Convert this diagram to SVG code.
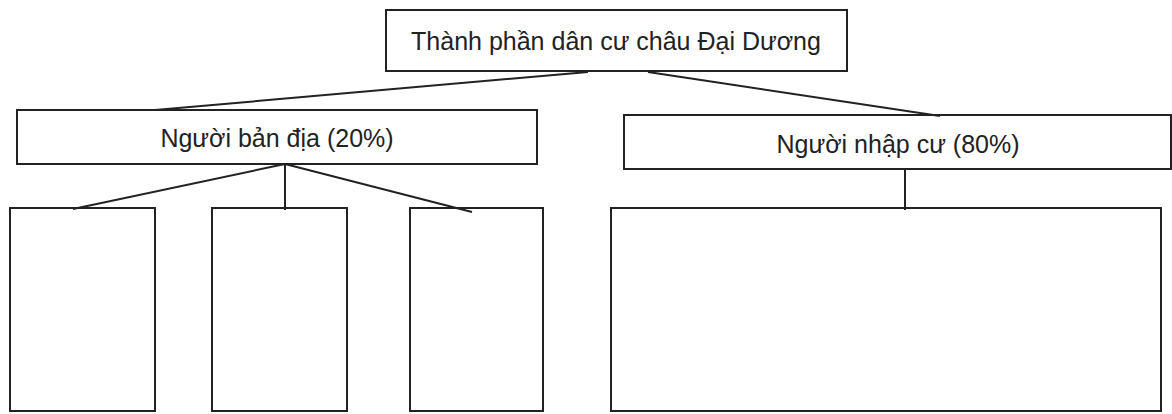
<svg xmlns="http://www.w3.org/2000/svg" width="1172" height="414" viewBox="0 0 1172 414">
<style>
.box{fill:#fff;stroke:#222;stroke-width:2}
.lbl{font-family:"Liberation Sans",Arial,sans-serif;font-size:25px;fill:#222;text-anchor:middle}
.con line{stroke:#222;stroke-width:2}
</style>
<rect width="1172" height="414" fill="#fff"/>
<g id="root">
<rect class="box" x="386" y="10" width="461" height="61"/>
<text class="lbl" x="616" y="50">Thành phần dân cư châu Đại Dương</text>
</g>
<g id="native">
<rect class="box" x="17" y="110" width="520" height="54"/>
<text class="lbl" x="277" y="147">Người bản địa (20%)</text>
</g>
<g id="immigrant">
<rect class="box" x="624" y="115" width="547" height="54"/>
<text class="lbl" x="898" y="153">Người nhập cư (80%)</text>
</g>
<g id="n1"><rect class="box" x="10" y="208" width="145" height="203"/></g>
<g id="n2"><rect class="box" x="212" y="208" width="135" height="203"/></g>
<g id="n3"><rect class="box" x="410" y="208" width="133" height="203"/></g>
<g id="n4"><rect class="box" x="611" y="208" width="550" height="203"/></g>
<g id="connectors" class="con">
<line x1="588" y1="72" x2="155" y2="110"/>
<line x1="648" y1="72" x2="940" y2="116"/>
<line x1="285" y1="164" x2="73" y2="209"/>
<line x1="285" y1="164" x2="285" y2="210"/>
<line x1="285" y1="164" x2="472" y2="212"/>
<line x1="905" y1="169" x2="905" y2="210"/>
</g>
</svg>
